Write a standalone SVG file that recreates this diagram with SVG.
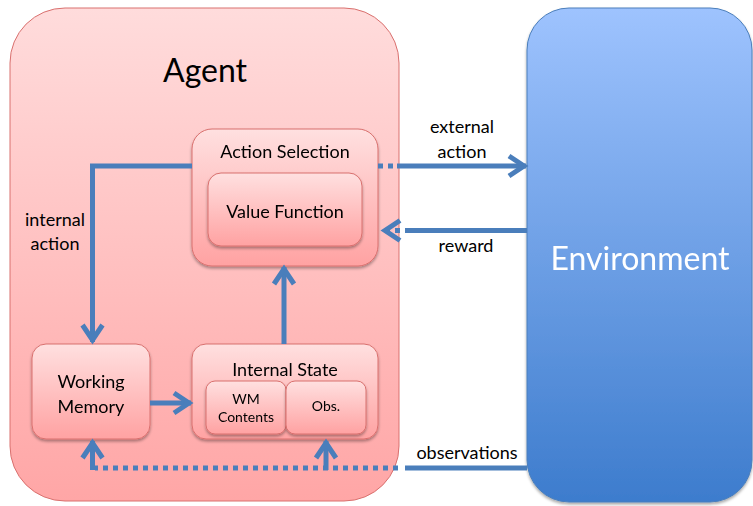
<svg xmlns="http://www.w3.org/2000/svg" width="753" height="506" viewBox="0 0 753 506">
  <defs>
    <linearGradient id="agentFill" x1="0" y1="0" x2="0" y2="1">
      <stop offset="0" stop-color="#ffdcdc"/>
      <stop offset="1" stop-color="#ffa6a6"/>
    </linearGradient>
    <linearGradient id="boxFill" x1="0" y1="0" x2="0" y2="1">
      <stop offset="0" stop-color="#ffe0e0"/>
      <stop offset="1" stop-color="#ffa2a2"/>
    </linearGradient>
    <linearGradient id="envFill" x1="0" y1="0" x2="0" y2="1">
      <stop offset="0" stop-color="#9ec3fe"/>
      <stop offset="1" stop-color="#3d7ccd"/>
    </linearGradient>
    <filter id="shadow" x="-10%" y="-10%" width="120%" height="125%">
      <feGaussianBlur in="SourceAlpha" stdDeviation="1.5"/>
      <feOffset dx="0" dy="2" result="b"/>
      <feComponentTransfer><feFuncA type="linear" slope="0.35"/></feComponentTransfer>
      <feMerge><feMergeNode/><feMergeNode in="SourceGraphic"/></feMerge>
    </filter>
    <marker id="open" markerUnits="userSpaceOnUse" orient="auto" overflow="visible" refX="0" refY="0">
      <path d="M-17,-10 L-2,0 L-17,10" fill="none" stroke="#4a7ebb" stroke-width="5" stroke-linejoin="miter"/>
    </marker>
  </defs>
  <style>
    .label { font-family: Lato, "Liberation Sans", sans-serif; fill: #000; text-anchor: middle; }
    .box { fill: url(#boxFill); stroke: #d9706e; stroke-width: 1; }
    .conn { fill: none; stroke: #4a7ebb; stroke-width: 5; }
    .dots { fill: none; stroke: #4a7ebb; stroke-width: 5; stroke-dasharray: 5 5; }
  </style>

  <rect width="753" height="506" fill="#ffffff"/>

  <!-- outer containers -->
  <g id="agent">
    <rect x="10" y="8" width="389" height="493" rx="55" fill="url(#agentFill)" stroke="#d9706e" stroke-width="1"/>
    <text class="label" x="205" y="82" font-size="32">Agent</text>
  </g>
  <g id="environment" filter="url(#shadow)">
    <rect x="527" y="8" width="225" height="494" rx="42" fill="url(#envFill)" stroke="#4a7ebb" stroke-width="1"/>
    <text class="label" x="640" y="270" font-size="32" style="fill:#ffffff">Environment</text>
  </g>

  <!-- inner modules -->
  <g id="action-selection" filter="url(#shadow)">
    <rect class="box" x="192" y="129" width="186" height="137" rx="20"/>
    <text class="label" x="285" y="158" font-size="18">Action Selection</text>
  </g>
  <g id="value-function" filter="url(#shadow)">
    <rect class="box" x="208" y="173" width="154" height="73" rx="13"/>
    <text class="label" x="285" y="218" font-size="18">Value Function</text>
  </g>
  <g id="working-memory" filter="url(#shadow)">
    <rect class="box" x="32" y="344" width="118" height="95" rx="14"/>
    <text class="label" x="91" y="388" font-size="18">Working</text>
    <text class="label" x="91" y="413" font-size="18">Memory</text>
  </g>
  <g id="internal-state" filter="url(#shadow)">
    <rect class="box" x="192" y="344" width="186" height="95" rx="14"/>
    <text class="label" x="285" y="376" font-size="18">Internal State</text>
  </g>
  <g id="wm-contents" filter="url(#shadow)">
    <rect class="box" x="206" y="381" width="80" height="53" rx="9"/>
    <text class="label" x="246" y="404" font-size="14">WM</text>
    <text class="label" x="246" y="422" font-size="14">Contents</text>
  </g>
  <g id="obs" filter="url(#shadow)">
    <rect class="box" x="286" y="381" width="80" height="53" rx="9"/>
    <text class="label" x="326" y="411" font-size="14">Obs.</text>
  </g>

  <!-- connectors -->
  <g id="connectors">
    <!-- internal action: Action Selection -> Working Memory -->
    <path class="conn" d="M192,166 H92.5 V342" marker-end="url(#open)" stroke-linejoin="miter"/>
    <!-- external action: Action Selection -> Environment -->
    <path class="dots" d="M378,166 H396"/>
    <path class="conn" d="M397,166 H526" marker-end="url(#open)"/>
    <!-- reward: Environment -> Action Selection -->
    <path class="conn" d="M527,230.5 H405"/>
    <path class="dots" d="M400,230.5 H383" marker-end="url(#open)"/>
    <!-- Working Memory -> Internal State -->
    <path class="conn" d="M150,403 H191" marker-end="url(#open)"/>
    <!-- Internal State -> Action Selection -->
    <path class="conn" d="M284,344 V267" marker-end="url(#open)"/>
    <!-- observations: Environment -> Working Memory and Obs. -->
    <path class="conn" d="M527,468 H405"/>
    <path class="dots" d="M398,468 H95"/>
    <path class="conn" d="M92.5,470 V441" marker-end="url(#open)"/>
    <path class="conn" d="M326,470 V441" marker-end="url(#open)"/>
  </g>

  <!-- connector labels -->
  <g id="connector-labels">
    <text class="label" x="462" y="133" font-size="18">external</text>
    <text class="label" x="462" y="158" font-size="18">action</text>
    <text class="label" x="466" y="252" font-size="18">reward</text>
    <text class="label" x="467" y="459" font-size="18">observations</text>
    <text class="label" x="55" y="226" font-size="18">internal</text>
    <text class="label" x="55" y="250" font-size="18">action</text>
  </g>
</svg>
